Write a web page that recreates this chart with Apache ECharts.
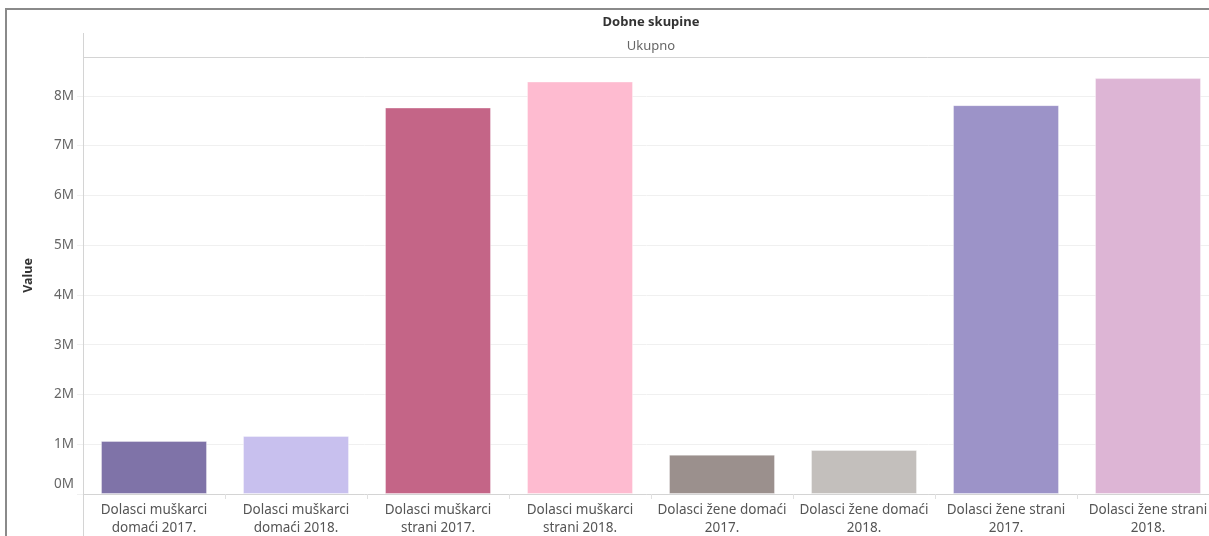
<!DOCTYPE html>
<html>
<head>
<meta charset="utf-8">
<script src="https://cdn.jsdelivr.net/npm/echarts@6/dist/echarts.min.js"></script>
<style>
  html, body { margin: 0; padding: 0; background: #fff; }
  #chart { width: 1209px; height: 536px; }
</style>
</head>
<body>
<div id="chart"></div>
<script>
// kategorije i vrijednosti (procijenjeno sa slike)
const categories = [
  'Dolasci muškarci\ndomaći 2017.',
  'Dolasci muškarci\ndomaći 2018.',
  'Dolasci muškarci\nstrani 2017.',
  'Dolasci muškarci\nstrani 2018.',
  'Dolasci žene domaći\n2017.',
  'Dolasci žene domaći\n2018.',
  'Dolasci žene strani\n2017.',
  'Dolasci žene strani\n2018.'
];
const values = [1065000, 1166000, 7765000, 8287000, 790000, 884000, 7813000, 8356000];
const barColors = ['#7f73a8', '#c8c0ee', '#c46587', '#febbd0', '#9b908d', '#c3bfbc', '#9c93c8', '#ddb5d5'];

const FONT = 'Noto Sans';
const chart = echarts.init(document.getElementById('chart'));

const option = {
  animation: false,
  textStyle: { fontFamily: FONT },
  // grid ide preko desnog ruba, kao na slici
  grid: { left: 83, right: -10, top: 57, bottom: 42, outerBoundsMode: 'none', containLabel: false },
  graphic: [
    // okvir
    { type: 'rect', shape: { x: 6, y: 9, width: 1400, height: 700 },
      style: { fill: 'none', stroke: '#8a8a8a', lineWidth: 2 }, silent: true },
    // zaglavlje
    { type: 'line', shape: { x1: 83.5, y1: 33, x2: 83.5, y2: 536 },
      style: { stroke: '#d4d4d4', lineWidth: 1 }, z: 10 },
    { type: 'line', shape: { x1: 83, y1: 57.5, x2: 1209, y2: 57.5 },
      style: { stroke: '#d4d4d4', lineWidth: 1 }, z: 10 },
    { type: 'text', x: 651, y: 22,
      style: { text: 'Dobne skupine', fill: '#333', font: 'bold 13px ' + FONT, align: 'center', verticalAlign: 'middle' } },
    { type: 'text', x: 651, y: 46,
      style: { text: 'Ukupno', fill: '#666', font: '13px ' + FONT, align: 'center', verticalAlign: 'middle' } }
  ],
  xAxis: {
    type: 'category',
    data: categories,
    axisLine: { show: true, lineStyle: { color: '#d4d4d4' } },
    axisTick: { show: true, length: 5, lineStyle: { color: '#e0e0e0' } },
    axisLabel: { color: '#555', fontSize: 13.5, lineHeight: 18, margin: 7, interval: 0 }
  },
  yAxis: {
    type: 'value',
    min: 0,
    max: 8780000,
    interval: 1000000,
    name: 'Value',
    nameLocation: 'middle',
    nameGap: 48,
    nameRotate: 90,
    nameTextStyle: { color: '#333', fontWeight: 'bold', fontSize: 12.5 },
    axisLine: { show: false },
    axisTick: { show: true, length: 6, lineStyle: { color: '#f0f0f0' } },
    splitLine: { show: true, lineStyle: { color: '#f0f0f0' } },
    axisLabel: {
      color: '#666', fontSize: 13.5, margin: 9,
      showMaxLabel: false,
      formatter: function (v) {
        if (v % 1000000 !== 0) return '';
        if (v === 0) return '{z|0M}';
        return (v / 1000000) + 'M';
      },
      rich: { z: { color: '#666', fontSize: 13.5, padding: [0, 0, 20, 0] } }
    }
  },
  series: [{
    type: 'bar',
    data: values.map((v, i) => ({ value: v, itemStyle: { color: barColors[i] } })),
    barWidth: 106,
    itemStyle: { borderColor: 'rgba(255,255,255,0.35)', borderWidth: 1 }
  }]
};

chart.setOption(option);
</script>
</body>
</html>
